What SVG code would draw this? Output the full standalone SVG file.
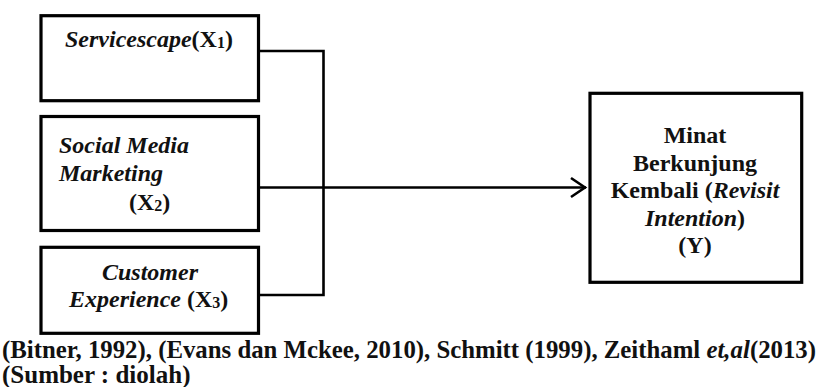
<svg xmlns="http://www.w3.org/2000/svg" width="819" height="387" viewBox="0 0 819 387">
<style>
.box{fill:#fff;stroke:#000;stroke-width:3.2}
.t{font-family:"Liberation Serif","Times New Roman",serif;font-size:24px;font-weight:bold;fill:#111}
.i{font-style:italic}
.sub{font-size:16px}
.c{text-anchor:middle}
.f{font-size:25px}
.ln{fill:none;stroke:#000;stroke-width:2.6}
</style>
<rect width="819" height="387" fill="#fff"/>
<g id="connectors">
<polyline class="ln" points="259,51 323.5,51 323.5,295 259,295"/>
<line class="ln" x1="259" y1="187.5" x2="586" y2="187.5"/>
<polyline class="ln" points="571,178 585,187.5 571,197" stroke-linejoin="miter"/>
</g>
<g id="x1">
<rect class="box" x="41" y="15.7" width="217.5" height="85"/>
<text class="t" x="65" y="47"><tspan class="i">Servicescape</tspan>(X<tspan class="sub" dy="1">1</tspan><tspan dy="-1">)</tspan></text>
</g>
<g id="x2">
<rect class="box" x="41" y="116.5" width="217.5" height="114"/>
<text class="t i" x="59" y="153">Social Media</text>
<text class="t i" x="59" y="181">Marketing</text>
<text class="t" x="129" y="210">(X<tspan class="sub" dy="1">2</tspan><tspan dy="-1">)</tspan></text>
</g>
<g id="x3">
<rect class="box" x="41" y="247.3" width="217.5" height="86"/>
<text class="t i" x="102" y="280">Customer</text>
<text class="t" x="69" y="307"><tspan class="i">Experience</tspan> (X<tspan class="sub" dy="1">3</tspan><tspan dy="-1">)</tspan></text>
</g>
<g id="y">
<rect class="box" x="590" y="93.3" width="211.7" height="189"/>
<text class="t c" x="695" y="143">Minat</text>
<text class="t c" x="695" y="171">Berkunjung</text>
<text class="t c" x="695" y="198">Kembali (<tspan class="i">Revisit</tspan></text>
<text class="t c" x="695" y="226"><tspan class="i">Intention</tspan>)</text>
<text class="t c" x="695" y="253">(Y)</text>
</g>
<g id="footer">
<text class="t f" x="2" y="358" textLength="814" lengthAdjust="spacingAndGlyphs">(Bitner, 1992), (Evans dan Mckee, 2010), Schmitt (1999), Zeithaml <tspan class="i">et,al</tspan>(2013)</text>
<text class="t f" x="2" y="383">(Sumber : diolah)</text>
</g>
</svg>
